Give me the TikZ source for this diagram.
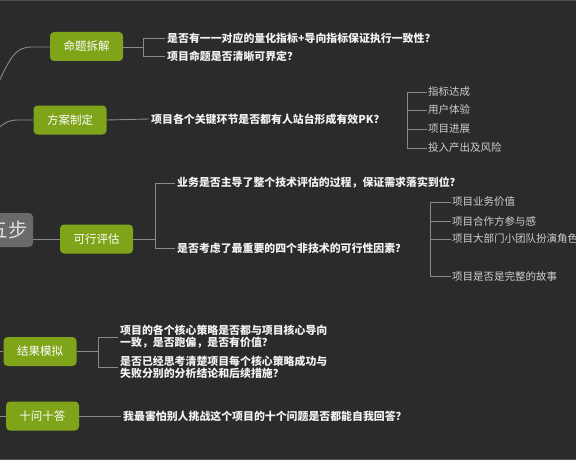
\documentclass[tikz,border=0pt]{standalone}
\usepackage{fontspec}
\setmainfont{Noto Sans CJK SC}
\definecolor{bg}{HTML}{2B2B2B}
\definecolor{leaf}{HTML}{7FA41A}
\definecolor{ln}{HTML}{8A8A8A}
\definecolor{rootc}{HTML}{6A6A6A}
\definecolor{subc}{HTML}{CFCFCF}
\definecolor{edge}{HTML}{505050}
\tikzset{
  conn/.style={draw=ln, line width=0.9pt},
  topic/.style={fill=leaf, rounded corners=4pt, text=white, inner sep=0pt,
    font=\fontsize{11.5}{13}\selectfont, minimum width=73pt, minimum height=29pt},
  rootbox/.style={fill=rootc, rounded corners=4pt, inner sep=0pt,
    minimum width=50pt, minimum height=34pt},
  roottext/.style={text=white!88!black, inner sep=0pt, anchor=east,
    font=\fontsize{19.5}{21}\selectfont},
  ques/.style={anchor=west, inner sep=0pt, text=white!95!black, align=left,
    font=\fontsize{10.9}{12}\selectfont\bfseries},
  subitem/.style={anchor=west, inner sep=0pt, text=subc,
    font=\fontsize{10.5}{12}\selectfont}
}
\begin{document}
\begin{tikzpicture}[x=1pt,y=-1pt]
\useasboundingbox (0,0) rectangle (576,460);
\clip (0,0) rectangle (576,460);
\fill[bg] (0,0) rectangle (576,460);
\fill[edge] (0,0) rectangle (576,1.5);
\fill[edge] (0,458.5) rectangle (576,460);

% root (partly off the page)
\node[rootbox] (root) at (8,230) {};
\node[roottext] (roottxt) at ([xshift=-5pt]root.east) {五步};

% main topics
\node[topic] (mt) at (86.5,46.5) {命题拆解};
\node[topic] (fa) at (70,120) {方案制定};
\node[topic] (kx) at (96.5,239) {可行评估};
\node[topic] (jg) at (40,351.5) {结果模拟};
\node[topic] (sw) at (42.5,416) {十问十答};

% connectors from the (off-page) centre
\coordinate (h1) at (-8,98);
\coordinate (h2) at (-8,133);
\coordinate (h4) at (-8,351.5);
\coordinate (h5) at (-8,416);
\coordinate (rk) at (33,239);
\draw[conn] (h1) .. controls (10,55) and (16,47) .. (32,47) -- (mt.west |- 0,47);
\draw[conn] (h2) .. controls (4,123) and (8,120) .. (18,120) -- (fa.west);
\draw[conn] (rk) -- (kx.west);
\draw[conn] (h4) -- (jg.west);
\draw[conn] (h5) -- (sw.west);

% 命题拆解
\node[ques] (q11) at (167,38) {是否有一一对应的量化指标+导向指标保证执行一致性？};
\node[ques] (q12) at (167,56) {项目命题是否清晰可界定？};
\coordinate (b1) at (143,47);
\draw[conn] (mt.east |- b1) -- (b1);
\draw[conn] ([xshift=-2pt]q11.west) -| (b1);
\draw[conn] ([xshift=-2pt]q12.west) -| (b1);

% 方案制定
\node[ques] (q21) at (151,119) {项目各个关键环节是否都有人站台形成有效PK？};
\draw[conn] (fa.east) -- ([xshift=-2pt]q21.west);
\node[subitem] (s21) at (428,92) {指标达成};
\node[subitem] (s22) at (428,110) {用户体验};
\node[subitem] (s23) at (428,129) {项目进展};
\node[subitem] (s24) at (428,148) {投入产出及风险};
\coordinate (b2) at (407,119);
\foreach \n in {s21,s22,s23,s24} \draw[conn] ([xshift=-1pt]\n.west) -| (b2);

% 可行评估
\node[ques] (q31) at (177,183) {业务是否主导了整个技术评估的过程，保证需求落实到位？};
\node[ques] (q32) at (177,248) {是否考虑了最重要的四个非技术的可行性因素？};
\coordinate (b3) at (155,239);
\draw[conn] (kx.east) -- (b3);
\draw[conn] ([xshift=-2pt]q31.west) -| (b3);
\draw[conn] ([xshift=-2pt]q32.west) -| (b3);
\node[subitem] (s31) at (452,202) {项目业务价值};
\node[subitem] (s32) at (452,221) {项目合作方参与感};
\node[subitem] (s33) at (452,239) {项目大部门小团队扮演角色};
\node[subitem] (s34) at (452,276) {项目是否是完整的故事};
\coordinate (b4) at (430,239);
\foreach \n in {s31,s32,s33,s34} \draw[conn] ([xshift=-1pt]\n.west) -| (b4);

% 结果模拟
\node[ques] (q41) at (120,337) {项目的各个核心策略是否都与项目核心导向\\一致，是否跑偏，是否有价值？};
\node[ques] (q42) at (120,367) {是否已经思考清楚项目每个核心策略成功与\\失败分别的分析结论和后续措施？};
\coordinate (b5) at (98,351.5);
\draw[conn] (jg.east) -- (b5);
\draw[conn] ([xshift=-2pt]q41.west) -| (b5);
\draw[conn] ([xshift=-2pt]q42.west) -| (b5);

% 十问十答
\node[ques] (q51) at (123,416) {我最害怕别人挑战这个项目的十个问题是否都能自我回答？};
\draw[conn] (sw.east) -- ([xshift=-2pt]q51.west);
\end{tikzpicture}
\end{document}
